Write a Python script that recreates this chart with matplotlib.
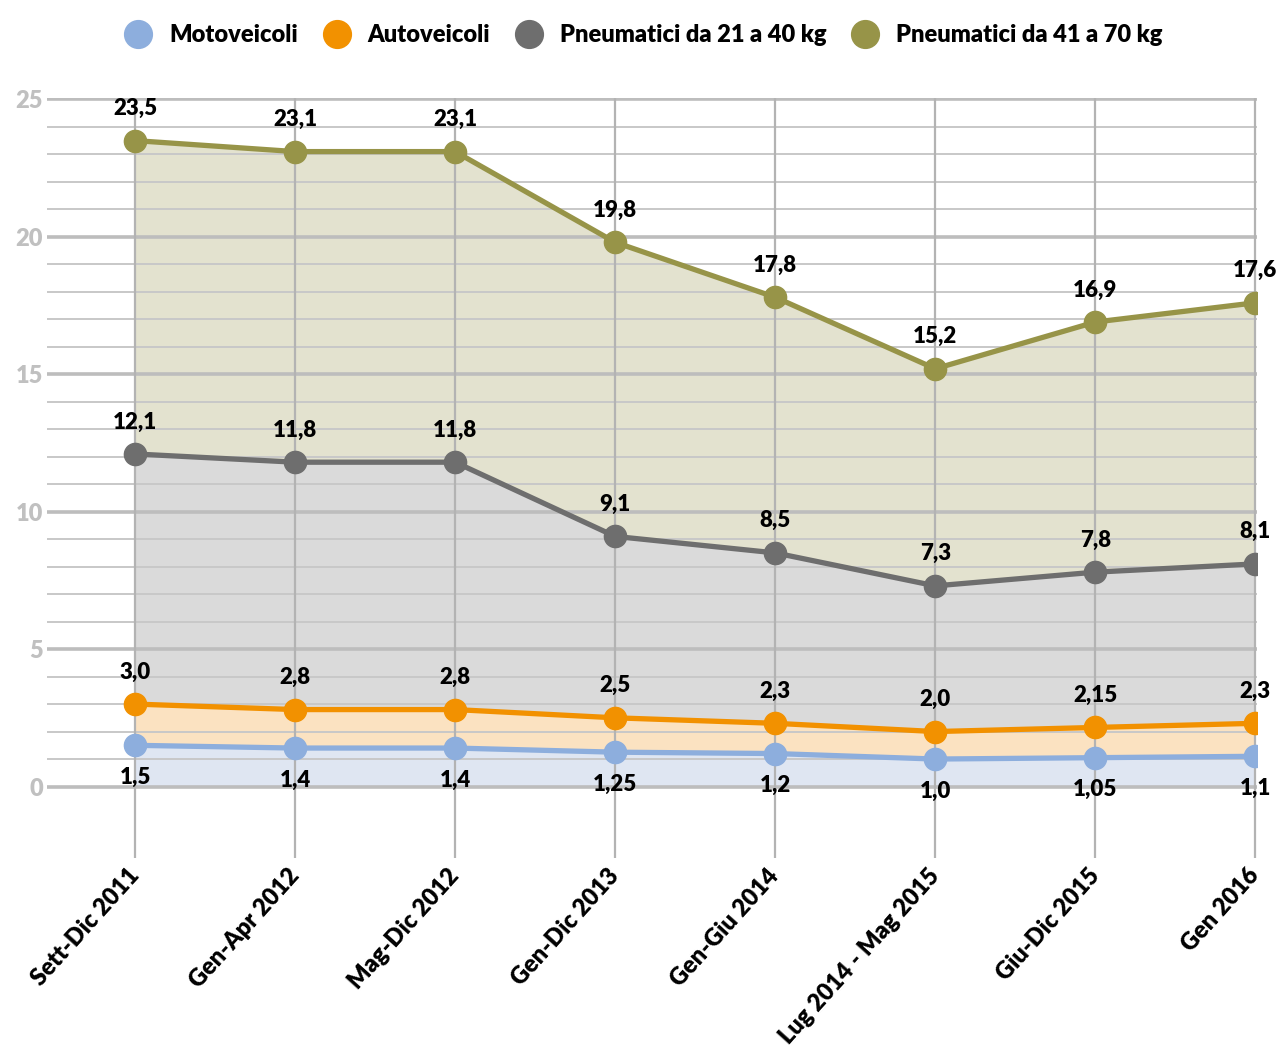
import matplotlib
matplotlib.use("Agg")
import matplotlib.pyplot as plt
from matplotlib.lines import Line2D

plt.rcParams['font.family'] = ['Lato', 'DejaVu Sans']

periods = ['Sett-Dic 2011', 'Gen-Apr 2012', 'Mag-Dic 2012', 'Gen-Dic 2013',
           'Gen-Giu 2014', 'Lug 2014 - Mag 2015', 'Giu-Dic 2015', 'Gen 2016']
moto = [1.5, 1.4, 1.4, 1.25, 1.2, 1.0, 1.05, 1.1]
auto = [3.0, 2.8, 2.8, 2.5, 2.3, 2.0, 2.15, 2.3]
pneu_21_40 = [12.1, 11.8, 11.8, 9.1, 8.5, 7.3, 7.8, 8.1]
pneu_41_70 = [23.5, 23.1, 23.1, 19.8, 17.8, 15.2, 16.9, 17.6]

series = [
    ('Motoveicoli', moto, '#8daedd', '#dfe6f2', -1),
    ('Autoveicoli', auto, '#f29100', '#fbe2c1', 1),
    ('Pneumatici da 21 a 40 kg', pneu_21_40, '#6e6e6e', '#dadada', 1),
    ('Pneumatici da 41 a 70 kg', pneu_41_70, '#979448', '#e3e2cf', 1),
]


def fmt(v):
    s = f"{v:.1f}" if round(v, 1) == v else f"{v:.2f}"
    return s.replace('.', ',')


fig = plt.figure(figsize=(12.77, 10.47), dpi=100)
ax = fig.add_axes([47 / 1277, 1 - 858 / 1047, (1257 - 47) / 1277, (858 - 98) / 1047])
x = list(range(len(periods)))
ax.set_xlim(-0.55, 7.01)
ax.set_ylim(-2.6, 25.05)

# fills, biggest first so the smaller ones sit on top
for name, vals, lc, fc, _ in reversed(series):
    ax.fill_between(x, 0, vals, color=fc, zorder=1, lw=0)

# grid
for v in range(0, 26):
    major = v % 5 == 0
    ax.axhline(v, color='#bdbdbd' if major else '#c8c8c8',
               lw=2.6 if major else 1.4, zorder=1.5)
for xi in x:
    ax.axvline(xi, color='#b3b3b3', lw=1.6, zorder=1.6)

for name, vals, lc, fc, side in series:
    ax.plot(x, vals, color=lc, lw=3.8, marker='o', ms=16, zorder=3)
    for xi, v in zip(x, vals):
        ax.annotate(fmt(v), (xi, v), xytext=(0, 32 * side), textcoords='offset pixels',
                    ha='center', va='center', fontsize=16, fontweight='heavy',
                    color='black', zorder=4)

ax.set_yticks([0, 5, 10, 15, 20, 25])
ax.set_xticks(x)
ax.set_xticklabels(periods, rotation=48, ha='right', va='center', rotation_mode='anchor',
                   fontsize=17, fontweight='heavy')
for lbl in ax.get_yticklabels():
    lbl.set_fontweight('heavy')
ax.tick_params(axis='y', length=0, labelsize=17, labelcolor='#c0c0c0', pad=3)
ax.tick_params(axis='x', length=0, pad=10)
for s in ax.spines.values():
    s.set_visible(False)

handles = [Line2D([], [], ls='none', marker='o', ms=20, color=lc) for _, _, lc, _, _ in series]
fig.legend(handles, [s[0] for s in series], loc='center', bbox_to_anchor=(0.5, 1 - 35 / 1047),
           ncol=4, frameon=False, handletextpad=0.3, columnspacing=0.65,
           prop={'weight': 'heavy', 'size': 17})

fig.savefig('out.png', dpi=100)
